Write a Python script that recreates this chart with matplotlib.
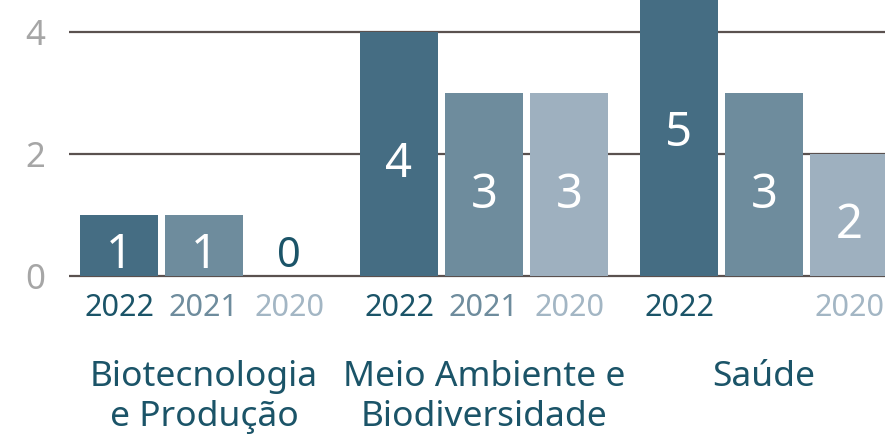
import matplotlib
matplotlib.use("Agg")
import matplotlib.pyplot as plt
import numpy as np

plt.rcParams['font.family'] = ['Noto Sans', 'DejaVu Sans']

categories = ["Biotecnologia\ne Produção", "Meio Ambiente e\nBiodiversidade", "Saúde"]
years = ["2022", "2021", "2020"]
values = {
    "2022": [1, 4, 5],
    "2021": [1, 3, 3],
    "2020": [0, 3, 2],
}
year_labels_shown = [["2022", "2021", "2020"],
                     ["2022", "2021", "2020"],
                     ["2022", "", "2020"]]
yticks = [0, 2, 4]

bar_colors = {"2022": "#456d83", "2021": "#6e8c9d", "2020": "#9eb0bf"}
year_text_colors = {"2022": "#1b5468", "2021": "#6e8c9d", "2020": "#a3b6c4"}
teal = "#1b5468"
grid_color = "#5a514f"

W, H = 885, 437
fig = plt.figure(figsize=(W / 100, H / 100), dpi=100)
px_per_unit = 61.0
ax_bottom_px = 280
ax = fig.add_axes([69 / W, (H - ax_bottom_px) / H, (W - 69) / W, ax_bottom_px / H])
ax.set_ylim(-4 / px_per_unit, 4 + 32 / px_per_unit)

group_pitch = 280.0
offset = 85.0 / group_pitch
width = 78.0 / group_pitch
ax.set_xlim((69 - 204) / group_pitch, (885 - 204) / group_pitch)

for y in yticks:
    ax.axhline(y, color=grid_color, lw=1.6, zorder=0)

x = np.arange(len(categories))
for j, yr in enumerate(years):
    xs = x + (j - 1) * offset
    ax.bar(xs, values[yr], width=width, color=bar_colors[yr], zorder=2)
    for i, (xi, v) in enumerate(zip(xs, values[yr])):
        if v > 0:
            ax.text(xi, v / 2 - 23 / px_per_unit, str(v), ha='center', va='baseline',
                    color='white', fontsize=34, zorder=3)
        else:
            ax.text(xi, 9 / px_per_unit, str(v), ha='center', va='baseline',
                    color=teal, fontsize=30, zorder=3)
        lbl = year_labels_shown[i][j]
        if lbl:
            ax.text(xi, -32 / px_per_unit, lbl, ha='center', va='center',
                    color=year_text_colors[yr], fontsize=22, clip_on=False)

for i, cat in enumerate(categories):
    ax.text(x[i], -(360 - 276) / px_per_unit, cat, ha='center', va='top',
            color=teal, fontsize=25.5, linespacing=1.22, clip_on=False)

ax.set_yticks(yticks)
ax.set_yticklabels([str(t) for t in yticks])
ax.tick_params(axis='y', length=0, pad=17, labelsize=25, labelcolor="#a6a6a6")
ax.set_xticks([])
for s in ax.spines.values():
    s.set_visible(False)

fig.savefig("out.png", dpi=100)
